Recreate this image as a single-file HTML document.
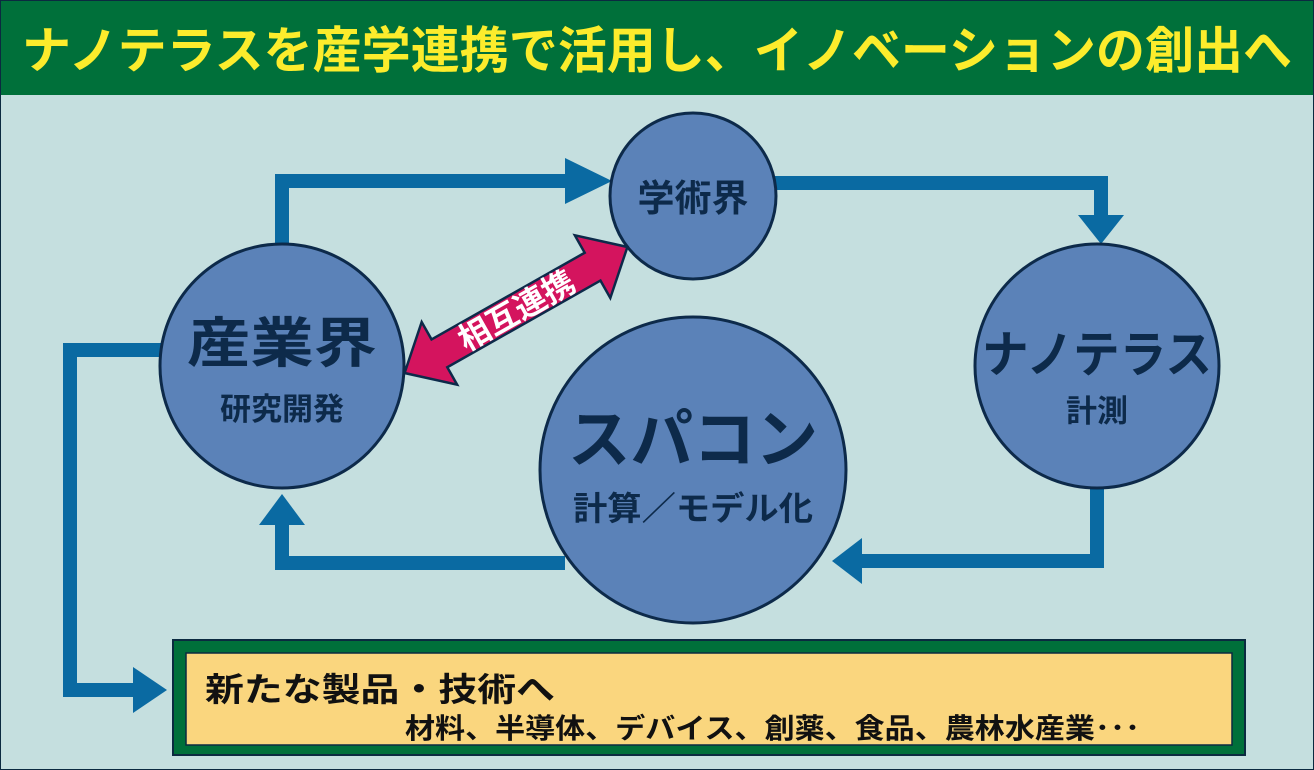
<!DOCTYPE html>
<html><head><meta charset="utf-8"><style>
body{margin:0;width:1314px;height:770px;overflow:hidden;background:#c5dfdf}
svg{display:block}
text{font-family:"Liberation Sans","Noto Sans CJK JP",sans-serif;font-weight:bold}
</style></head><body>
<svg width="1314" height="770" viewBox="0 0 1314 770">
<rect x="0" y="0" width="1314" height="770" fill="#c5dfdf" stroke="#0b2a40" stroke-width="2"/>
<rect x="1" y="1" width="1312" height="94" fill="#00703a"/>
<text x="657" y="68" font-size="50" fill="#fcec2c" text-anchor="middle" textLength="1270" lengthAdjust="spacingAndGlyphs">ナノテラスを産学連携で活用し、イノベーションの創出へ</text>
<g fill="none" stroke="#0a6aa2" stroke-width="14">
<polyline points="282,250 282,181 585,181"/>
<polyline points="770,183 1101,183 1101,220"/>
<polyline points="1097,480 1097,561 855,561"/>
<polyline points="565,563 282,563 282,520"/>
<polyline points="165,350 70,350 70,690 140,690"/>
</g>
<g fill="#0a6aa2">
<polygon points="565,158 612,181 565,204"/>
<polygon points="1078,215 1124,215 1101,244"/>
<polygon points="862,538 862,584 832,561"/>
<polygon points="259,525 305,525 282,494"/>
<polygon points="133,667 133,713 167,690"/>
</g>
<g fill="#5b82b8" stroke="#0d2a4a" stroke-width="3">
<circle cx="693" cy="196" r="83"/>
<circle cx="282" cy="366" r="122"/>
<circle cx="1097" cy="366" r="122"/>
<circle cx="693" cy="470" r="153"/>
</g>
<g fill="#0d2a4a" text-anchor="middle">
<text x="693" y="211" font-size="37">学術界</text>
<text x="282" y="362" font-size="54" textLength="190" lengthAdjust="spacingAndGlyphs">産業界</text>
<text x="282" y="420" font-size="31">研究開発</text>
<text x="1097" y="372" font-size="50" textLength="230" lengthAdjust="spacingAndGlyphs">ナノテラス</text>
<text x="1097" y="422" font-size="31">計測</text>
<text x="693" y="462" font-size="64" textLength="250" lengthAdjust="spacingAndGlyphs">スパコン</text>
<text x="693" y="520" font-size="33" textLength="240" lengthAdjust="spacingAndGlyphs">計算／モデル化</text>
</g>
<g transform="translate(516,310) rotate(-29.5)">
<polygon points="-128,0 -88,-36 -88,-16 88,-16 88,-36 128,0 88,36 88,16 -88,16 -88,36" fill="#d4145e" stroke="#0d2a4a" stroke-width="2.5"/>
<text x="0" y="12" font-size="32" fill="#fff" text-anchor="middle">相互連携</text>
</g>
<rect x="173" y="640" width="1072" height="115" fill="#00703a" stroke="#0b2a40" stroke-width="2"/>
<rect x="186" y="653" width="1046" height="92" fill="#fad67e" stroke="#0b2a40" stroke-width="1.5"/>
<text x="205" y="701" font-size="33" fill="#111" textLength="350" lengthAdjust="spacingAndGlyphs">新たな製品・技術へ</text>
<text x="405" y="738" font-size="28" fill="#111" textLength="735" lengthAdjust="spacingAndGlyphs">材料、半導体、デバイス、創薬、食品、農林水産業･･･</text>
</svg>
</body></html>
